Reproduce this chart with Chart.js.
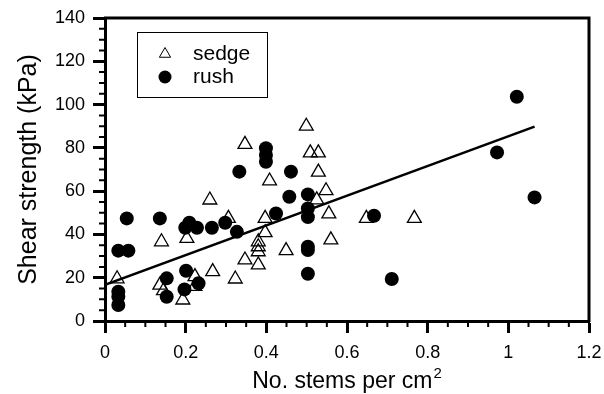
<!DOCTYPE html>
<html><head><meta charset="utf-8">
<script src="https://cdn.jsdelivr.net/npm/chart.js@4.4.1/dist/chart.umd.min.js"></script>
<style>html,body{margin:0;padding:0;background:#fff;}#wrap{width:604px;height:394px;}</style>
</head><body><div id="wrap"><canvas id="c" width="604" height="394"></canvas></div>
<script>
const seriesNames = ['sedge', 'rush'];
const sedgeX = [0.03, 0.136, 0.145, 0.14, 0.193, 0.203, 0.223, 0.223, 0.26, 0.267, 0.306, 0.323, 0.347, 0.347, 0.38, 0.38, 0.38, 0.38, 0.397, 0.397, 0.408, 0.449, 0.499, 0.509, 0.529, 0.529, 0.525, 0.548, 0.555, 0.56, 0.648, 0.767];
const sedgeY = [19.5, 16.6, 14, 36.6, 9.7, 38.2, 20.5, 16, 55.9, 22.8, 47.4, 19.4, 81.6, 28.2, 36.6, 34.3, 32, 25.9, 47.4, 40.8, 64.7, 32.5, 90, 77.7, 77.7, 68.8, 56, 60.2, 49.5, 37.5, 47.4, 47.4];
const rushX = [0.033, 0.033, 0.033, 0.033, 0.058, 0.054, 0.136, 0.153, 0.153, 0.197, 0.201, 0.199, 0.209, 0.228, 0.232, 0.265, 0.298, 0.327, 0.333, 0.399, 0.399, 0.399, 0.424, 0.457, 0.461, 0.503, 0.503, 0.503, 0.503, 0.503, 0.503, 0.667, 0.711, 0.972, 1.021, 1.065];
const rushY = [7.4, 11.2, 13.5, 32.5, 32.5, 47.4, 47.4, 19.7, 11.2, 14.6, 23.2, 43.1, 45.4, 43.1, 17.4, 43.1, 45.4, 41.2, 69, 79.8, 76.7, 73.6, 49.7, 57.4, 69, 58.5, 52, 48, 34.3, 32.8, 21.8, 48.6, 19.4, 77.9, 103.6, 57.1];
const fitX = [0, 1.065];
const fitY = [16.7, 89.8];
const xTickLabels = ['0', '0.2', '0.4', '0.6', '0.8', '1', '1.2'];
const yTickLabels = ['0', '20', '40', '60', '80', '100', '120', '140'];
const xTitleMain = 'No. stems per cm';
const xTitleSup = '2';
const yTitle = 'Shear strength (kPa)';

const pts = (xs, ys) => xs.map((v, i) => ({x: v, y: ys[i]}));
const FONT = "'Liberation Sans', Arial, Helvetica, sans-serif";
Chart.defaults.font.family = FONT;
Chart.defaults.color = '#000';

const extras = {
  id: 'extras',
  afterDraw(chart) {
    const {ctx, scales: {x, y}, chartArea: a} = chart;
    ctx.save();
    ctx.strokeStyle = '#000';
    ctx.lineWidth = 2;
    ctx.beginPath();
    for (let i = 0; i <= 24; i++) {
      if (i % 4 === 0) continue;
      const px = x.getPixelForValue(i * 0.05);
      ctx.moveTo(px, a.bottom); ctx.lineTo(px, a.bottom + 6);
    }
    for (let i = 0; i <= 28; i++) {
      if (i % 4 === 0) continue;
      const py = y.getPixelForValue(i * 5);
      ctx.moveTo(a.left, py); ctx.lineTo(a.left - 6, py);
    }
    ctx.stroke();
    ctx.lineWidth = 3;
    ctx.beginPath();
    ctx.moveTo(a.left - 1, a.top); ctx.lineTo(a.right, a.top); ctx.lineTo(a.right, a.bottom + 1);
    ctx.stroke();
    // x axis title with superscript
    ctx.fillStyle = '#000';
    ctx.textBaseline = 'alphabetic';
    ctx.textAlign = 'left';
    ctx.font = '23px ' + FONT;
    const wMain = ctx.measureText(xTitleMain).width;
    ctx.font = '15px ' + FONT;
    const wSup = ctx.measureText(xTitleSup).width;
    const tx = (a.left + a.right) / 2 - (wMain + wSup + 1) / 2;
    const ty = a.bottom + 67;
    ctx.font = '23px ' + FONT;
    ctx.fillText(xTitleMain, tx, ty);
    ctx.font = '15px ' + FONT;
    ctx.fillText(xTitleSup, tx + wMain + 1, ty - 10);
    // legend
    const lx = a.left + 32, ly = a.top + 14, lw = 130, lh = 65;
    ctx.lineWidth = 1;
    ctx.strokeRect(lx + 0.5, ly + 0.5, lw, lh);
    const ds = chart.data.datasets;
    [0, 1].forEach(k => {
      const d = ds[k];
      const cy = ly + 22 + k * 23;
      ctx.fillStyle = d.pointBackgroundColor;
      ctx.strokeStyle = d.pointBorderColor;
      Chart.helpers.drawPoint(ctx, {pointStyle: d.pointStyle, radius: 6.5, borderWidth: d.pointBorderWidth, rotation: 0}, lx + 28, cy);
      ctx.fillStyle = '#000';
      ctx.font = '21px ' + FONT;
      ctx.textBaseline = 'middle';
      ctx.textAlign = 'left';
      ctx.fillText(d.label, lx + 56, cy);
    });
    ctx.restore();
  }
};

new Chart(document.getElementById('c'), {
  type: 'scatter',
  data: {
    datasets: [
      {label: seriesNames[0], data: pts(sedgeX, sedgeY), pointStyle: 'triangle', pointRadius: 8, pointHoverRadius: 8,
       pointBackgroundColor: 'rgba(0,0,0,0)', pointBorderColor: '#000', pointBorderWidth: 1.3, order: 3},
      {label: seriesNames[1], data: pts(rushX, rushY), pointStyle: 'circle', pointRadius: 7, pointHoverRadius: 7,
       pointBackgroundColor: '#000', pointBorderColor: '#000', pointBorderWidth: 0, order: 2},
      {label: 'fit', data: pts(fitX, fitY), showLine: true, pointRadius: 0, borderColor: '#000', borderWidth: 2.5, fill: false, order: 1}
    ]
  },
  options: {
    responsive: false,
    animation: false,
    layout: {padding: {left: 0, top: 18, right: 15, bottom: 0}},
    plugins: {legend: {display: false}, tooltip: {enabled: false}},
    scales: {
      x: {
        type: 'linear', min: 0, max: 1.2,
        border: {display: true, color: '#000', width: 3},
        grid: {drawOnChartArea: false, drawTicks: true, tickLength: 12, tickWidth: 3, tickColor: '#000'},
        ticks: {stepSize: 0.2, padding: 9, color: '#000', font: {size: 18}, maxRotation: 0,
                callback: (v, i) => xTickLabels[i]},
        title: {display: false},
        afterFit: s => { s.height = 73; s.paddingLeft = 0; s.paddingRight = 0; }
      },
      y: {
        type: 'linear', min: 0, max: 140,
        border: {display: true, color: '#000', width: 3},
        grid: {drawOnChartArea: false, drawTicks: true, tickLength: 12, tickWidth: 3, tickColor: '#000'},
        ticks: {stepSize: 20, padding: 8, color: '#000', font: {size: 18},
                callback: (v, i) => yTickLabels[i]},
        title: {display: true, text: yTitle, color: '#000', font: {size: 25}, padding: {top: 14, bottom: 0}},
        afterFit: s => { s.width = 105; s.paddingTop = 0; s.paddingBottom = 0; }
      }
    }
  },
  plugins: [extras]
});
</script></body></html>
